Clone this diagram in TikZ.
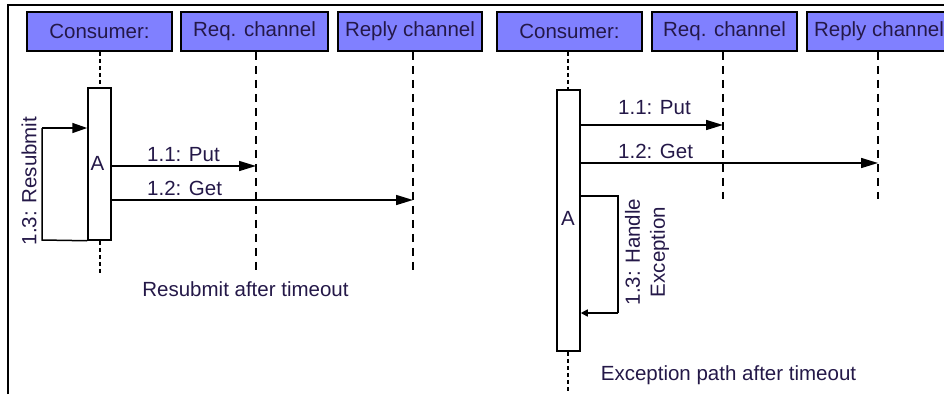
\documentclass[tikz,border=0pt]{standalone}
\usepackage{fontspec}
\setmainfont{Liberation Sans}
\usetikzlibrary{arrows.meta}
\definecolor{boxfill}{RGB}{128,128,255}
\definecolor{txt}{RGB}{36,24,72}
\tikzset{
  hdr/.style={draw=black, line width=1.5pt, fill=boxfill, minimum height=39pt, text=txt, inner sep=0pt, font=\fontsize{20.5}{24}\selectfont},
  act/.style={draw=black, line width=1.5pt, fill=white, minimum width=23pt, inner sep=0pt},
  lbl/.style={text=txt, inner sep=0pt, font=\fontsize{20.5}{25}\selectfont},
  msg/.style={line width=1.5pt, -{Triangle[length=17pt,width=10pt]}},
  smallmsg/.style={line width=1.5pt, -{Triangle[length=7pt,width=7pt]}},
  plain/.style={line width=1.5pt},
  life/.style={line width=1.5pt, dash pattern=on 8pt off 6pt},
  dotlife/.style={line width=1.5pt, dash pattern=on 4pt off 3pt},
}
\begin{document}
\begin{tikzpicture}[x=1pt,y=-1pt]
\useasboundingbox (0,0) rectangle (944,394);
% frame
\draw[line width=1.5pt] (8,394) -- (8,5) -- (946,5);

% ===== left diagram =====
\node[hdr, minimum width=145pt] (cons1) at (99.5,31.5) {Consumer:};
\node[hdr, minimum width=147pt] (req1) at (254.5,31.5) {Req. channel};
\node[hdr, minimum width=144pt] (rep1) at (410,31.5) {Reply channel};

\coordinate (c1top) at (100,88);
\coordinate (c1end) at (100,275);
\coordinate (r1end) at (256,275);
\coordinate (p1end) at (413,275);
\draw[dotlife] (cons1.south -| c1top) -- (c1top);
\draw[life] (req1.south -| r1end) -- (r1end);
\draw[life] (rep1.south -| p1end) -- (p1end);

\node[act, minimum height=152pt] (act1) at (99.5,164) {};
\draw[dotlife] (act1.south -| c1end) -- (c1end);
\node[lbl] (a1) at (97.5,163) {A};

\coordinate (put1) at (256,166);
\coordinate (get1) at (413,200);
\draw[msg] (act1.east |- put1) -- (put1);
\draw[msg] (act1.east |- get1) -- (get1);
\node[lbl, anchor=west] (lput1) at (147,155) {1.1: Put};
\node[lbl, anchor=west] (lget1) at (147,188) {1.2: Get};

\coordinate (loopA) at (42,128);
\coordinate (loopB) at (42,240);
\draw[plain] (act1.south west) -- (loopB) -- (loopA);
\draw[msg, -{Triangle[length=15pt,width=10pt]}] (loopA) -- (act1.west |- loopA);
\node[lbl, rotate=90] (lres) at (29,181) {1.3: Resubmit};

\node[lbl] (t1) at (245.5,289) {Resubmit after timeout};

% ===== right diagram =====
\node[hdr, minimum width=145pt] (cons2) at (569.5,31.5) {Consumer:};
\node[hdr, minimum width=145pt] (req2) at (724.5,31.5) {Req. channel};
\node[hdr, minimum width=144pt] (rep2) at (879,31.5) {Reply channel};

\coordinate (c2top) at (568,90);
\coordinate (c2end) at (568,392);
\coordinate (r2end) at (723,199);
\coordinate (p2end) at (878,199);
\draw[dotlife] (cons2.south -| c2top) -- (c2top);
\draw[life] (req2.south -| r2end) -- (r2end);
\draw[life] (rep2.south -| p2end) -- (p2end);

\node[act, minimum height=261pt] (act2) at (568.5,220.5) {};
\draw[dotlife] (act2.south -| c2end) -- (c2end);
\node[lbl] (a2) at (568,218) {A};

\coordinate (put2) at (723,125);
\coordinate (get2) at (878,163);
\draw[msg] (act2.east |- put2) -- (put2);
\draw[msg] (act2.east |- get2) -- (get2);
\node[lbl, anchor=west] (lput2) at (618,108) {1.1: Put};
\node[lbl, anchor=west] (lget2) at (618,151) {1.2: Get};

\coordinate (selfA) at (618,196);
\coordinate (selfB) at (618,313);
\draw[plain] (act2.east |- selfA) -- (selfA) -- (selfB);
\draw[smallmsg] (selfB) -- (act2.east |- selfB);
\node[lbl, rotate=90, align=center] (lhandle) at (647,252) {1.3: Handle\\Exception};

\node[lbl] (t2) at (728.5,375) {Exception path after timeout};
\end{tikzpicture}
\end{document}
